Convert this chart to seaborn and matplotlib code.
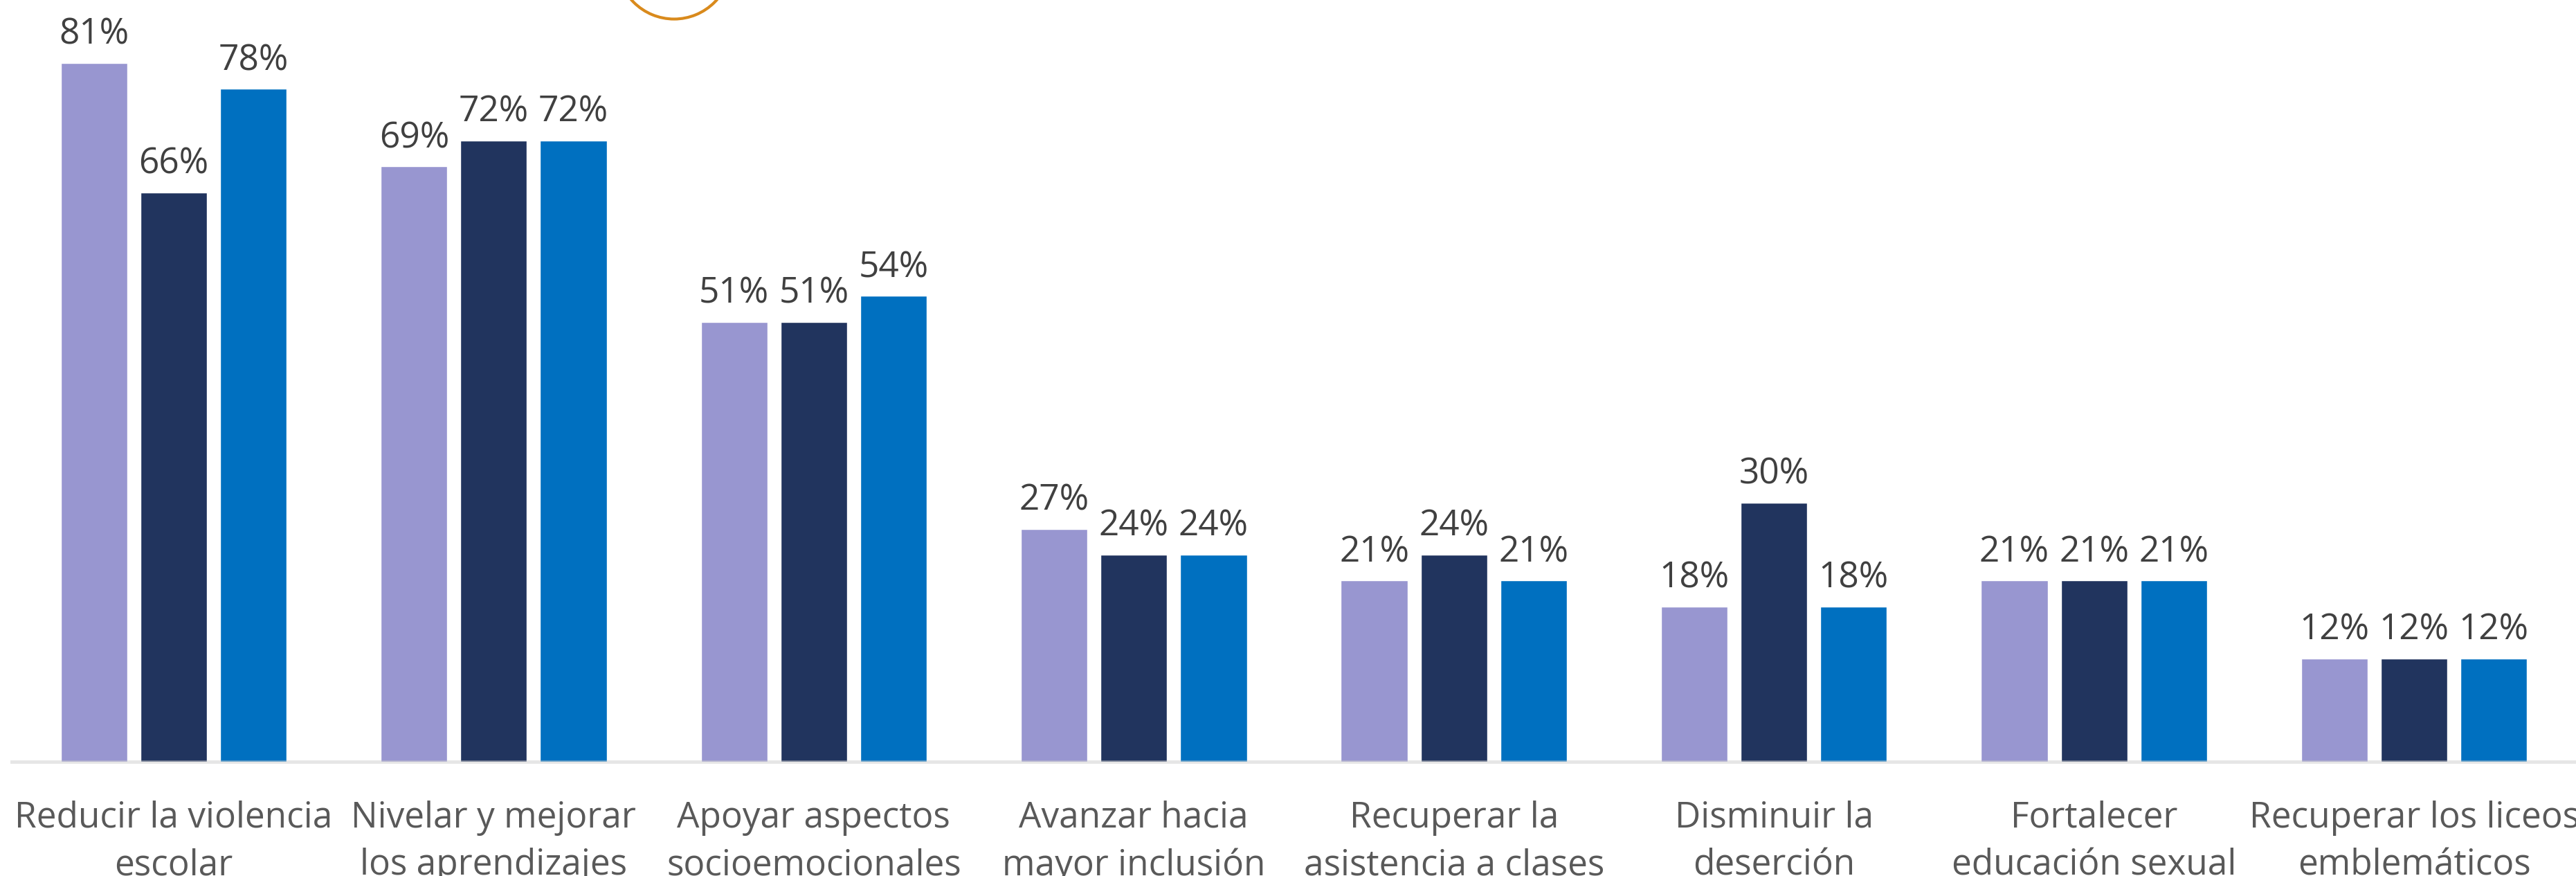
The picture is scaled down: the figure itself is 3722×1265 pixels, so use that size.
import numpy as np
import pandas as pd
import seaborn as sns
import matplotlib.pyplot as plt
from matplotlib.patches import Arc

# categories on the x axis (two-line labels as in the original slide)
categorias = ["Reducir la violencia\nescolar", "Nivelar y mejorar\nlos aprendizajes",
              "Apoyar aspectos\nsocioemocionales", "Avanzar hacia\nmayor inclusión",
              "Recuperar la\nasistencia a clases", "Disminuir la\ndeserción",
              "Fortalecer\neducación sexual", "Recuperar los liceos\nemblemáticos"]

# three series, percentages
serie_1 = [81, 69, 51, 27, 21, 18, 21, 12]
serie_2 = [66, 72, 51, 24, 24, 30, 21, 12]
serie_3 = [78, 72, 54, 24, 21, 18, 21, 12]
series = ["Serie 1", "Serie 2", "Serie 3"]
colores = ["#9896D0", "#21345E", "#0070C0"]

# long-form table for seaborn
df = pd.DataFrame({
    "categoria": categorias * 3,
    "serie": np.repeat(series, len(categorias)),
    "valor": serie_1 + serie_2 + serie_3,
})

sns.set_theme(style="white")
plt.rcParams["font.family"] = ["Open Sans", "DejaVu Sans"]

fig = plt.figure(figsize=(37.22, 12.65), dpi=100)
ax = fig.add_axes([17 / 3722, 165 / 1265, 1 - 17 / 3722, 1100 / 1265])

sns.barplot(data=df, x="categoria", y="valor", hue="serie", palette=colores,
            width=0.747, gap=0.165, saturation=1, legend=False, ax=ax)

# value labels on top of each bar
for cont in ax.containers:
    ax.bar_label(cont, labels=[f"{int(v)}%" for v in cont.datavalues],
                 padding=11, fontsize=37, color="#404040")

ax.set_xlim(-0.506, 7.506)
ax.set_ylim(0, 88.3)
ax.set_xlabel("")
ax.set_ylabel("")
ax.set_yticks([])
ax.tick_params(axis="x", length=0, pad=40, labelsize=37, labelcolor="#595959")
for lab in ax.get_xticklabels():
    lab.set_linespacing(1.45)

for s in ["top", "left", "right"]:
    ax.spines[s].set_visible(False)
ax.spines["bottom"].set_color("#c8c8c8")
ax.spines["bottom"].set_alpha(0.45)
ax.spines["bottom"].set_linewidth(3.6)

# bit of the orange icon ring peeking in at the top
fig.patches.append(Arc((974, 1265 + 55), 165, 165, transform=None,
                       color="#D98A1C", lw=3))

plt.savefig("out.png", dpi=100)
